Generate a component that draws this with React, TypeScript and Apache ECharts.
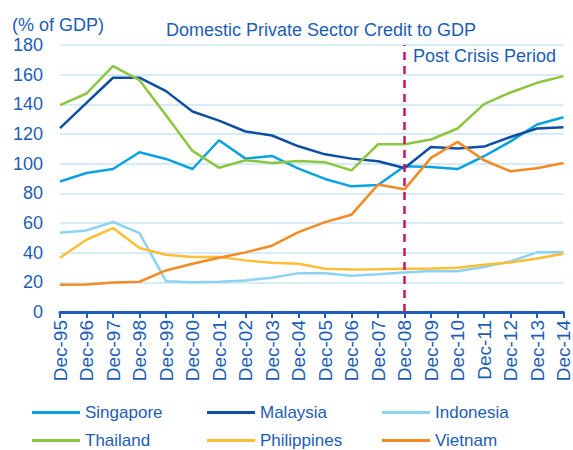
import React, { useEffect, useRef } from "react";
import * as echarts from "echarts";

const categories = ["Dec-95","Dec-96","Dec-97","Dec-98","Dec-99","Dec-00","Dec-01","Dec-02","Dec-03","Dec-04","Dec-05","Dec-06","Dec-07","Dec-08","Dec-09","Dec-10","Dec-11","Dec-12","Dec-13","Dec-14"];
const singapore = [88, 93.7, 96.4, 107.7, 103.2, 96.4, 115.8, 103.4, 105.2, 96.7, 89.7, 84.7, 85.6, 98.2, 97.8, 96.4, 105, 115, 126.4, 131.3];
const malaysia = [124, 141, 157.9, 158, 148.9, 135.2, 129, 121.7, 119, 111.7, 106.3, 103.4, 101.6, 97.1, 111.3, 110.2, 111.5, 118, 123.7, 124.6];
const indonesia = [53.5, 55, 60.7, 53.2, 20.8, 20.1, 20.4, 21.3, 23.1, 26.2, 26.2, 24.4, 25.5, 26.7, 27.6, 27.4, 30.3, 34.1, 40.2, 40.2];
const thailand = [139.4, 147.3, 165.8, 156.3, 132.7, 108.6, 97.3, 102.3, 100.5, 101.8, 101, 95.5, 113.1, 113.1, 116.3, 123.7, 140.1, 148, 154.5, 159];
const philippines = [36.6, 48.7, 56.6, 43.1, 38.6, 37, 37, 34.8, 33.2, 32.5, 29.2, 28.7, 28.9, 29.2, 29.4, 29.8, 31.9, 33.4, 36.1, 39.3];
const vietnam = [18.3, 18.5, 19.9, 20.4, 28, 32.5, 36.6, 40.2, 44.7, 53.9, 60.6, 65.6, 85.9, 82.7, 103.9, 114.7, 102.3, 94.9, 96.9, 100.5];
const yTicks = [0, 20, 40, 60, 80, 100, 120, 140, 160, 180];
const crisisCategory = "Dec-08";
const seriesNames = ["Singapore", "Malaysia", "Indonesia", "Thailand", "Philippines", "Vietnam"];

const TEXT = "#1D5DB3";
const FONT = "Liberation Sans, Arial, sans-serif";

export default function App() {
  const ref = useRef<HTMLDivElement>(null);
  useEffect(() => {
    const chart = echarts.init(ref.current!, null, { renderer: "svg" });
    const colors = ["#0AA2E2", "#0E4FA3", "#8ED2F2", "#8CC63E", "#FDBE35", "#F58A23"];
    const dataSets = [singapore, malaysia, indonesia, thailand, philippines, vietnam];
    const colLeft = [32, 207, 382];
    const rowTop = [404, 432];
    const legends = seriesNames.map((name, i) => ({
      left: colLeft[i % 3],
      top: rowTop[Math.floor(i / 3)],
      itemWidth: 48,
      itemHeight: 3,
      itemGap: 0,
      icon: "rect",
      data: [{ name, icon: "rect" }],
      textStyle: { color: TEXT, fontSize: 17, lineHeight: 16, fontFamily: FONT, padding: [0, 0, 0, 0] },
      padding: 0,
    }));
    const series: any[] = seriesNames.map((name, i) => ({
      name,
      type: "line",
      data: dataSets[i],
      symbol: "none",
      showSymbol: false,
      lineStyle: { color: colors[i], width: 2.5 },
      itemStyle: { color: colors[i] },
      z: 3,
    }));
    series[0].markLine = {
      silent: true,
      symbol: "none",
      data: [{ xAxis: crisisCategory }],
      lineStyle: { color: "#CC1560", type: [8, 6], width: 2.5 },
      label: { show: false },
    };
    chart.setOption({
      animation: false,
      backgroundColor: "#ffffff",
      textStyle: { fontFamily: FONT },
      title: [
        {
          text: "Domestic Private Sector Credit to GDP",
          left: 316,
          top: 16,
          textAlign: "center",
          textStyle: { color: TEXT, fontSize: 18, fontWeight: "normal", fontFamily: FONT },
        },
        {
          text: "(% of GDP)",
          left: 7,
          top: 11,
          textStyle: { color: TEXT, fontSize: 18, fontWeight: "normal", fontFamily: FONT },
        },
      ],
      grid: { left: 60, right: 7, top: 45, bottom: 138 },
      xAxis: {
        type: "category",
        data: categories,
        boundaryGap: false,
        axisLine: { lineStyle: { color: "#1F5DB8", width: 3 } },
        axisTick: { show: true, inside: false, length: 6, lineStyle: { color: "#1F5DB8", width: 2 } },
        axisLabel: { rotate: 90, color: TEXT, fontSize: 19, margin: 8, interval: 0, fontFamily: FONT },
        splitLine: { show: false },
      },
      yAxis: {
        type: "value",
        min: yTicks[0],
        max: yTicks[yTicks.length - 1],
        interval: 20,
        axisLine: { show: false },
        axisTick: { show: false },
        axisLabel: { color: TEXT, fontSize: 18, margin: 17, fontFamily: FONT },
        splitLine: { lineStyle: { color: "#C8E6F6", width: 1.5 } },
      },
      legend: legends,
      series,
      graphic: [
        {
          type: "text",
          left: 413,
          top: 47,
          style: { text: "Post Crisis Period", fill: TEXT, fontSize: 18, fontFamily: FONT },
        },
      ],
    });
    return () => chart.dispose();
  }, []);
  return <div ref={ref} style={{ width: 573, height: 450, position: "absolute", left: 0, top: 0 }} />;
}
